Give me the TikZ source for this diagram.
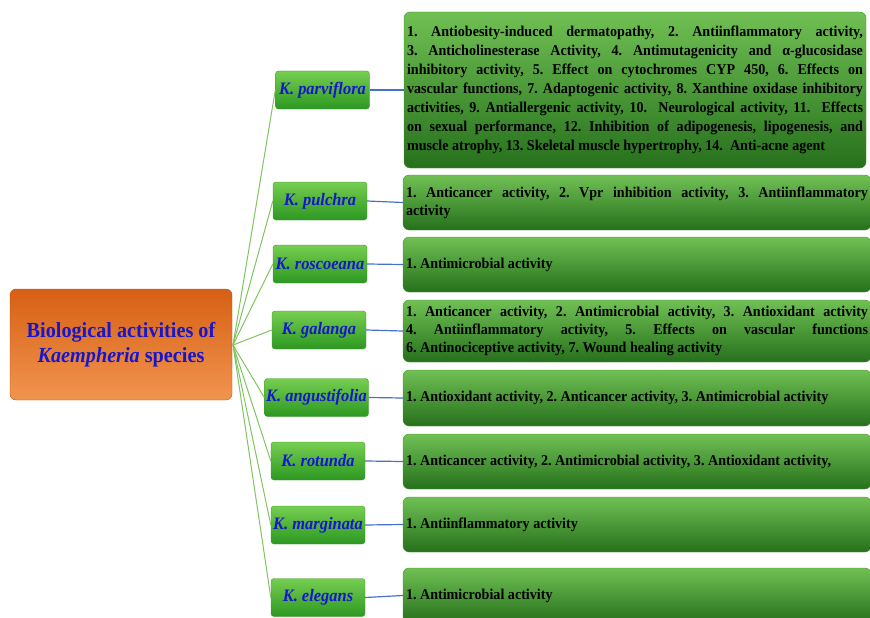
\documentclass[tikz,border=0pt]{standalone}
\usepackage{fontspec}
\setmainfont{Liberation Serif}[FakeStretch=0.94]
\usetikzlibrary{shapes}

\definecolor{orgTop}{RGB}{214,96,20}
\definecolor{orgBot}{RGB}{242,148,78}
\definecolor{orgEdge}{RGB}{196,82,14}
\definecolor{spTop}{RGB}{118,206,80}
\definecolor{spBot}{RGB}{44,152,34}
\definecolor{actTop}{RGB}{112,192,84}
\definecolor{actBot}{RGB}{38,112,28}
\definecolor{grEdge}{RGB}{70,150,50}
\definecolor{linkGreen}{RGB}{128,196,98}
\definecolor{linkBlue}{RGB}{72,112,200}
\definecolor{nameBlue}{RGB}{22,22,205}

\begin{document}
\frenchspacing
\begin{tikzpicture}[x = 1pt, y = -1pt, font=\bfseries]
	\tikzstyle{rootStyle}=[rounded corners = 6pt, draw = orgEdge, top color = orgTop, bottom color = orgBot, minimum width = 222pt, minimum height = 111pt, text = nameBlue, align = center, font = \bfseries\fontsize{21.5}{25}\selectfont]
	\tikzstyle{speciesStyle}=[rounded corners = 3pt, draw = grEdge, top color = spTop, bottom color = spBot, minimum width = 94pt, minimum height = 38pt, inner sep = 1pt, text = nameBlue, font = \bfseries\itshape\fontsize{17.5}{20}\selectfont]
	\tikzstyle{activityStyle}=[rounded corners = 6pt, draw = grEdge, top color = actTop, bottom color = actBot, minimum height = 55pt, text width = 462pt, inner xsep = 3pt, inner ysep = 2pt, align = justify, font = \bfseries\fontsize{15}{18}\selectfont]
	\tikzstyle{greenLink}=[draw = linkGreen, line width = 1pt]
	\tikzstyle{blueLink}=[draw = linkBlue, line width = 1.2pt]
	\useasboundingbox (0,0) rectangle (870,618);
	\node[rootStyle] (r0) at (121,344.5) {Biological activities of\\\textit{Kaempheria} species};
	\coordinate (hub) at (233,345);
	\node[speciesStyle] (s1) at (322.5,90) {K. parviflora};
	\node[speciesStyle] (s2) at (320,201) {K. pulchra};
	\node[speciesStyle] (s3) at (320,264) {K. roscoeana};
	\node[speciesStyle] (s4) at (319,330) {K. galanga};
	\node[speciesStyle, minimum width = 104pt] (s5) at (316.5,397.5) {K. angustifolia};
	\node[speciesStyle] (s6) at (318,461) {K. rotunda};
	\node[speciesStyle] (s7) at (318,525) {K. marginata};
	\node[speciesStyle] (s8) at (318,597.5) {K. elegans};
	\node[activityStyle, text width = 456pt, minimum height = 156pt, font = \bfseries\fontsize{15}{19}\selectfont] (a1) at (635,90) {1. Antiobesity-induced dermatopathy, 2. Antiinflammatory activity,\linebreak 3. Anticholinesterase Activity, 4. Antimutagenicity and α-glucosidase\linebreak inhibitory activity, 5. Effect on cytochromes CYP 450, 6. Effects on\linebreak vascular functions, 7. Adaptogenic activity, 8. Xanthine oxidase inhibitory\linebreak activities, 9. Antiallergenic activity, 10.~~Neurological activity, 11.~~Effects\linebreak on sexual performance, 12. Inhibition of adipogenesis, lipogenesis, and\linebreak muscle atrophy, 13. Skeletal muscle hypertrophy, 14.~~Anti-acne agent};
	\node[activityStyle] (a2) at (637,202.5) {1. Anticancer activity, 2. Vpr inhibition activity, 3. Antiinflammatory\linebreak activity};
	\node[activityStyle] (a3) at (637,264.5) {1. Antimicrobial activity};
	\node[activityStyle, minimum height = 62pt] (a4) at (637,331) {1. Anticancer activity, 2. Antimicrobial activity, 3. Antioxidant activity\linebreak 4. Antiinflammatory activity, 5. Effects on vascular functions\linebreak 6. Antinociceptive activity, 7. Wound healing activity};
	\node[activityStyle, minimum height = 56pt] (a5) at (637,398) {1. Antioxidant activity, 2. Anticancer activity, 3. Antimicrobial activity};
	\node[activityStyle] (a6) at (637,461.5) {1. Anticancer activity, 2. Antimicrobial activity, 3. Antioxidant activity,};
	\node[activityStyle] (a7) at (637,524.5) {1. Antiinflammatory activity};
	\node[activityStyle] (a8) at (637,595.5) {1. Antimicrobial activity};
	\foreach \i in {1,...,8}{
		\draw[greenLink] (hub) -- (s\i.west);
		\draw[blueLink] (s\i.east) -- (a\i.west);
	}
\end{tikzpicture}
\end{document}
